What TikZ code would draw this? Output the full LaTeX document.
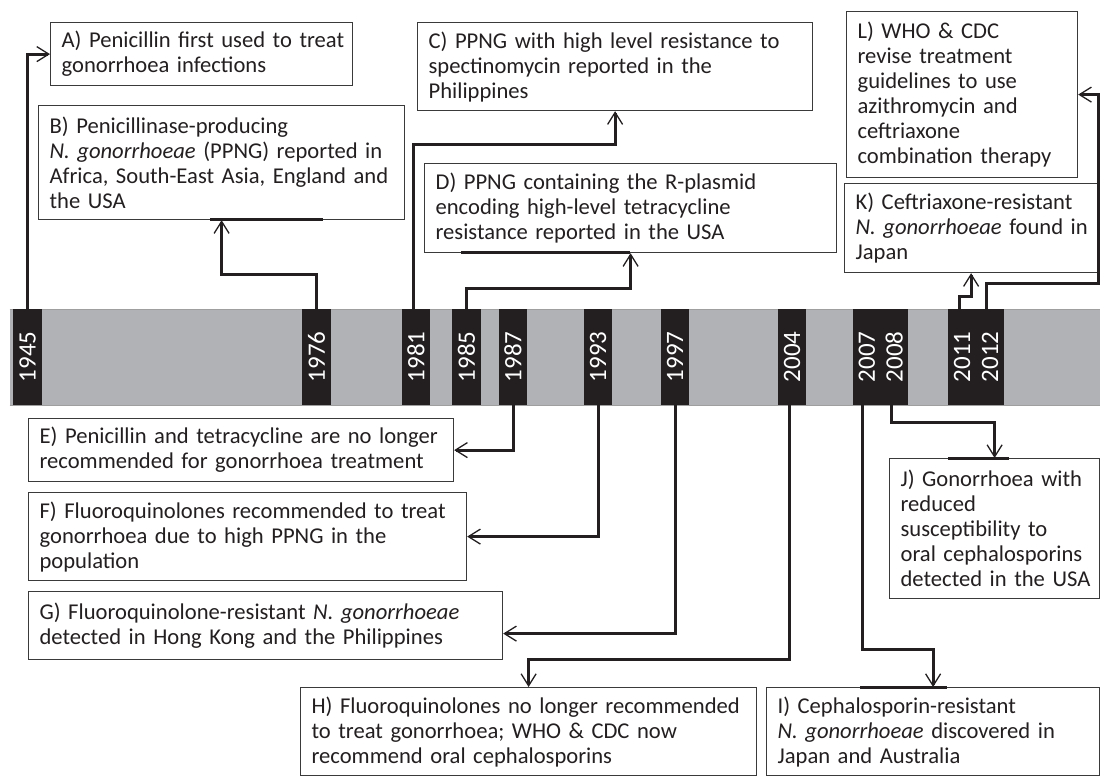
\documentclass[tikz,border=0pt]{standalone}
\usepackage{fontspec}
\setmainfont{Carlito}
\usetikzlibrary{arrows.meta,calc}
\definecolor{bandgray}{HTML}{B1B2B5}
\definecolor{ink}{HTML}{231F20}
\definecolor{edgegray}{HTML}{3A3A3A}
\newcommand{\tl}[1]{\mbox{#1}}
\tikzset{
  box/.style={draw=edgegray, line width=1.2pt, rectangle, anchor=north west,
    inner xsep=11pt, inner ysep=0pt, align=left, text=ink,
    font=\fontsize{22.6}{25}\selectfont},
  yearbar/.style={fill=ink, inner sep=0pt, minimum height=96pt, text=white,
    font=\fontsize{25}{25}\selectfont},
  conn/.style={draw=ink, line width=3pt,
    -{Straight Barb[length=12pt,width=15pt,line width=1.3pt]}},
  heavyedge/.style={draw=ink, line width=3pt}
}
\begin{document}
\begin{tikzpicture}[x=1pt,y=-1pt]
\useasboundingbox (0,0) rectangle (1100,776);
\fill[white] (0,0) rectangle (1100,776);

% timeline band
\fill[bandgray] (9.5,309) rectangle (1100,405);
\draw[gray!75, line width=0.8pt] (9.5,309) -- (1100,309) (9.5,405) -- (1100,405);

% year bars
\node[yearbar, minimum width=28.7pt] (b1945) at (27.7,357) {\rotatebox{90}{1945}};
\node[yearbar, minimum width=28.7pt] (b1976) at (316.5,357) {\rotatebox{90}{1976}};
\node[yearbar, minimum width=28.7pt] (b1981) at (416,357) {\rotatebox{90}{1981}};
\node[yearbar, minimum width=28.7pt] (b1985) at (466.5,357) {\rotatebox{90}{1985}};
\node[yearbar, minimum width=28.7pt] (b1987) at (513,357) {\rotatebox{90}{1987}};
\node[yearbar, minimum width=28.7pt] (b1993) at (598,357) {\rotatebox{90}{1993}};
\node[yearbar, minimum width=28.7pt] (b1997) at (675,357) {\rotatebox{90}{1997}};
\node[yearbar, minimum width=28.7pt] (b2004) at (792,357) {\rotatebox{90}{2004}};
\node[yearbar, minimum width=27.6pt] (b2007) at (866.75,357) {\rotatebox{90}{2007}};
\node[yearbar, minimum width=27.6pt] (b2008) at (894.25,357) {\rotatebox{90}{2008}};
\node[yearbar, minimum width=28.1pt] (b2011) at (962,357) {\rotatebox{90}{2011}};
\node[yearbar, minimum width=28.1pt] (b2012) at (990,357) {\rotatebox{90}{2012}};

% boxes above
\node[box, minimum width=302pt, minimum height=63pt, text width=280pt] (A) at (50,22)
  {\tl{A) Penicillin first used to treat}\\ \tl{gonorrhoea infections}};
\node[box, minimum width=366pt, minimum height=114pt, text width=344pt] (B) at (38,105)
  {\tl{B) Penicillinase-producing}\\ \tl{\textit{N. gonorrhoeae} (PPNG) reported in}\\ \tl{Africa, South-East Asia, England and}\\ \tl{the USA}};
\node[box, minimum width=395pt, minimum height=88pt, text width=373pt] (C) at (417,22)
  {\tl{C) PPNG with high level resistance to}\\ \tl{spectinomycin reported in the}\\ \tl{Philippines}};
\node[box, minimum width=412pt, minimum height=89pt, text width=390pt] (D) at (424,163)
  {\tl{D) PPNG containing the R-plasmid}\\ \tl{encoding high-level tetracycline}\\ \tl{resistance reported in the USA}};
\node[box, minimum width=231pt, minimum height=166pt, text width=209pt] (L) at (846,11)
  {\tl{L) WHO \& CDC}\\ \tl{revise treatment}\\ \tl{guidelines to use}\\ \tl{azithromycin and}\\ \tl{ceftriaxone}\\ \tl{combination therapy}};
\node[box, minimum width=253pt, minimum height=89pt, text width=231pt] (K) at (844,183)
  {\tl{K) Ceftriaxone-resistant}\\ \tl{\textit{N. gonorrhoeae} found in}\\ \tl{Japan}};

% boxes below
\node[box, minimum width=425pt, minimum height=63pt, text width=403pt] (E) at (28,418)
  {\tl{E) Penicillin and tetracycline are no longer}\\ \tl{recommended for gonorrhoea treatment}};
\node[box, minimum width=438pt, minimum height=88pt, text width=416pt] (F) at (28,492)
  {\tl{F) Fluoroquinolones recommended to treat}\\ \tl{gonorrhoea due to high PPNG in the}\\ \tl{population}};
\node[box, minimum width=474pt, minimum height=68pt, text width=452pt] (G) at (28,591)
  {\tl{G) Fluoroquinolone-resistant \textit{N. gonorrhoeae}}\\ \tl{detected in Hong Kong and the Philippines}};
\node[box, minimum width=456pt, minimum height=88pt, text width=434pt] (H) at (300,687)
  {\tl{H) Fluoroquinolones no longer recommended}\\ \tl{to treat gonorrhoea; WHO \& CDC now}\\ \tl{recommend oral cephalosporins}};
\node[box, minimum width=333pt, minimum height=88pt, text width=311pt] (I) at (766,687)
  {\tl{I) Cephalosporin-resistant}\\ \tl{\textit{N. gonorrhoeae} discovered in}\\ \tl{Japan and Australia}};
\node[box, minimum width=210pt, minimum height=140pt, text width=188pt] (J) at (889,458)
  {\tl{J) Gonorrhoea with}\\ \tl{reduced}\\ \tl{susceptibility to}\\ \tl{oral cephalosporins}\\ \tl{detected in the USA}};

% heavy marks on box edges
\draw[heavyedge] (210,219) -- (323,219);
\draw[heavyedge] (461,252) -- (630,252);
\draw[heavyedge] (860,687) -- (947,687);
\draw[heavyedge] (948,458) -- (1009,458);

% connectors above
\draw[conn] (b1945.north) |- (A.west);
\draw[conn] (b1976.north) |- ($(B.south)+(0,54)$) -- (B.south);
\draw[conn] ([xshift=-3pt]b1981.north) |- ($(C.south)+(0,33)$) -- (C.south);
\draw[conn] (b1985.north) |- ($(D.south)+(0,35)$) -- (D.south);
\draw[conn] ([xshift=-3pt]b2011.north) |- ($(K.south)+(0,23)$) -- (K.south);
\draw[conn] ([xshift=-4pt]b2012.north) |- ($(L.east)+(20,189)$) |- (L.east);

% connectors below
\draw[conn] (b1987.south) |- (E.east);
\draw[conn] (b1993.south) |- (F.east);
\draw[conn] (b1997.south) |- ($(G.east)+(0,8)$);
\draw[conn] ([xshift=-3pt]b2004.south) |- ($(H.north)+(0,-28)$) -- (H.north);
\draw[conn] ([xshift=-4pt]b2007.south) |- ($(I.north)+(0,-38)$) -- (I.north);
\draw[conn] ([xshift=-3pt]b2008.south) |- ($(J.north)+(0,-36)$) -- (J.north);
\end{tikzpicture}
\end{document}
